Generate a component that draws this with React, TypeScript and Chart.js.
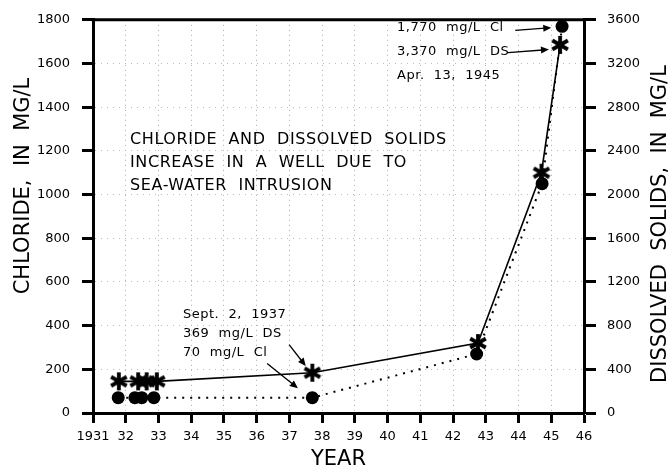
import React, { useEffect, useRef } from "react";
import { Chart, registerables } from "chart.js";

Chart.register(...registerables);

// ---- Data ----
const chlorideYears = [1931.77, 1932.28, 1932.49, 1932.86, 1937.7, 1942.72, 1944.72, 1945.33];
const chlorideValues = [70, 70, 70, 70, 70, 270, 1050, 1770];
const solidsYears = [1931.79, 1932.38, 1932.64, 1932.95, 1937.7, 1942.76, 1944.7, 1945.27];
const solidsValues = [290, 290, 290, 290, 369, 640, 2200, 3370];

const yearMin = 1931;
const yearMax = 1946;
const chlorideMax = 1800;
const chlorideStep = 200;
const solidsMax = 3600;
const solidsStep = 400;

const leftTitle = "CHLORIDE,  IN  MG/L";
const rightTitle = "DISSOLVED  SOLIDS,  IN  MG/L";
const bottomTitle = "YEAR";
const chartNote = ["CHLORIDE  AND  DISSOLVED  SOLIDS", "INCREASE  IN  A  WELL  DUE  TO", "SEA-WATER  INTRUSION"];
const noteApr = ["1,770  mg/L  Cl", "3,370  mg/L  DS", "Apr.  13,  1945"];
const noteSept = ["Sept.  2,  1937", "369  mg/L  DS", "70  mg/L  Cl"];

const FONT = "'DejaVu Sans', 'Noto Sans', sans-serif";

function makeAsterisk(): HTMLCanvasElement {
  const size = 22;
  const c = document.createElement("canvas");
  c.width = size;
  c.height = size;
  const g = c.getContext("2d")!;
  g.strokeStyle = "#000";
  g.lineWidth = 3.8;
  g.lineCap = "butt";
  const r = 9;
  const cx = size / 2;
  const cy = size / 2;
  for (let k = 0; k < 3; k++) {
    const a = Math.PI / 2 + (k * Math.PI) / 3;
    g.beginPath();
    g.moveTo(cx + r * Math.cos(a), cy + r * Math.sin(a));
    g.lineTo(cx - r * Math.cos(a), cy - r * Math.sin(a));
    g.stroke();
  }
  return c;
}

function arrow(ctx: CanvasRenderingContext2D, x1: number, y1: number, x2: number, y2: number) {
  const ang = Math.atan2(y2 - y1, x2 - x1);
  const hl = 8;
  const hw = 3.5;
  ctx.beginPath();
  ctx.moveTo(x1, y1);
  ctx.lineTo(x2 - hl * 0.8 * Math.cos(ang), y2 - hl * 0.8 * Math.sin(ang));
  ctx.stroke();
  ctx.beginPath();
  ctx.moveTo(x2, y2);
  ctx.lineTo(x2 - hl * Math.cos(ang) + hw * Math.sin(ang), y2 - hl * Math.sin(ang) - hw * Math.cos(ang));
  ctx.lineTo(x2 - hl * Math.cos(ang) - hw * Math.sin(ang), y2 - hl * Math.sin(ang) + hw * Math.cos(ang));
  ctx.closePath();
  ctx.fill();
}

const overlayPlugin = {
  id: "overlay",
  afterDraw(chart: any) {
    const { ctx, chartArea, scales } = chart;
    const sx = scales.x;
    const sy = scales.y;
    ctx.save();
    ctx.fillStyle = "#000";
    ctx.strokeStyle = "#000";

    // top frame line
    ctx.lineWidth = 3;
    ctx.beginPath();
    ctx.moveTo(chartArea.left - 1.5, chartArea.top);
    ctx.lineTo(chartArea.right + 1.5, chartArea.top);
    ctx.stroke();

    // axis titles
    ctx.font = `21px ${FONT}`;
    ctx.textAlign = "center";
    ctx.textBaseline = "middle";
    ctx.save();
    ctx.translate(24, 186);
    ctx.rotate(-Math.PI / 2);
    ctx.fillText(leftTitle, 0, 0);
    ctx.restore();
    ctx.save();
    ctx.translate(661, 224);
    ctx.rotate(-Math.PI / 2);
    ctx.fillText(rightTitle, 0, 0);
    ctx.restore();
    ctx.fillText(bottomTitle, (chartArea.left + chartArea.right) / 2, 460);

    // main note
    ctx.textAlign = "left";
    ctx.font = `16px ${FONT}`;
    (ctx as any).letterSpacing = "0.6px";
    const nx = sx.getPixelForValue(1932.13);
    const ny = sy.getPixelForValue(1250);
    chartNote.forEach((t, i) => ctx.fillText(t, nx, ny + i * 23));

    // April 1945 note
    ctx.font = `13px ${FONT}`;
    (ctx as any).letterSpacing = "0.5px";
    const ax = sx.getPixelForValue(1940.29);
    const ay = sy.getPixelForValue(1764);
    noteApr.forEach((t, i) => ctx.fillText(t, ax, ay + i * 24));

    // Sept 1937 note
    const bx = sx.getPixelForValue(1933.75);
    const by = sy.getPixelForValue(449);
    noteSept.forEach((t, i) => ctx.fillText(t, bx, by + i * 19));
    (ctx as any).letterSpacing = "0px";

    // arrows
    ctx.lineWidth = 1.3;
    const P = (yr: number, v: number): [number, number] => [sx.getPixelForValue(yr), sy.getPixelForValue(v)];
    const arrows: [number, number, number, number][] = [
      [1943.9, 1752, 1945.0, 1764],
      [1943.68, 1650, 1944.93, 1664],
      [1936.99, 313, 1937.5, 215],
      [1936.32, 227, 1937.26, 113],
    ];
    arrows.forEach(([a, b, c, d]) => {
      const [x1, y1] = P(a, b);
      const [x2, y2] = P(c, d);
      arrow(ctx, x1, y1, x2, y2);
    });
    ctx.restore();
  },
};

export default function App() {
  const ref = useRef<HTMLCanvasElement>(null);

  useEffect(() => {
    if (!ref.current) return;
    const star = makeAsterisk();
    const tickFont = { family: FONT, size: 13 };
    const plain = (v: any) => String(v);
    const chart = new Chart(ref.current, {
      type: "scatter",
      data: {
        datasets: [
          {
            label: "Dissolved solids",
            data: solidsYears.map((x, i) => ({ x, y: solidsValues[i] })),
            yAxisID: "y2",
            showLine: true,
            borderColor: "#000",
            borderWidth: 1.6,
            pointStyle: star as any,
            pointRadius: 11,
            pointHoverRadius: 11,
            clip: false as any,
          },
          {
            label: "Chloride",
            data: chlorideYears.map((x, i) => ({ x, y: chlorideValues[i] })),
            yAxisID: "y",
            showLine: true,
            borderColor: "#000",
            borderWidth: 2,
            borderDash: [2, 6],
            backgroundColor: "#000",
            pointStyle: "circle",
            pointRadius: 6.5,
            pointHoverRadius: 6.5,
            pointBorderWidth: 0,
            clip: false as any,
          },
        ],
      },
      options: {
        animation: false,
        responsive: false,
        events: [],
        layout: { padding: { top: 15, left: 0, right: 0, bottom: 0 } },
        plugins: { legend: { display: false }, tooltip: { enabled: false } },
        scales: {
          x: {
            type: "linear",
            min: yearMin,
            max: yearMax,
            ticks: {
              stepSize: 1,
              color: "#000",
              font: tickFont,
              padding: 6,
              maxRotation: 0,
              autoSkip: false,
              callback: (v: any) => (Number(v) === yearMin ? String(v) : String(v).slice(2)),
            },
            grid: {
              color: "#aaa",
              lineWidth: 1,
              tickColor: "#000",
              tickWidth: 3,
              tickLength: 10,
            },
            border: { color: "#000", width: 3, dash: [1, 4] },
            afterFit: (s: any) => {
              s.height = 60;
            },
          },
          y: {
            type: "linear",
            position: "left",
            min: 0,
            max: chlorideMax,
            ticks: { stepSize: chlorideStep, color: "#000", font: tickFont, padding: 12, callback: plain },
            grid: {
              color: "#bbb",
              lineWidth: 1,
              tickColor: "#000",
              tickWidth: 3,
              tickLength: 11,
            },
            border: { color: "#000", width: 3, dash: [1, 5] },
            afterFit: (s: any) => {
              s.width = 93;
            },
          },
          y2: {
            type: "linear",
            position: "right",
            min: 0,
            max: solidsMax,
            ticks: { stepSize: solidsStep, color: "#000", font: tickFont, padding: 11, callback: plain },
            grid: {
              drawOnChartArea: false,
              tickColor: "#000",
              tickWidth: 3,
              tickLength: 12,
            },
            border: { color: "#000", width: 3 },
            afterFit: (s: any) => {
              s.width = 87;
            },
          },
        },
      },
      plugins: [overlayPlugin],
    } as any);
    return () => chart.destroy();
  }, []);

  return (
    <div style={{ position: "absolute", left: 0, top: 0, width: 671, height: 473, background: "#fff" }}>
      <canvas ref={ref} width={671} height={473} style={{ display: "block" }} />
    </div>
  );
}
